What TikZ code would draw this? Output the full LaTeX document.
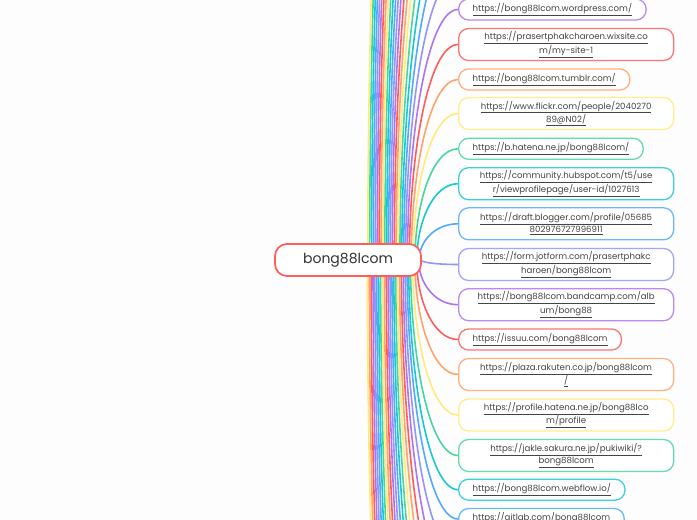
\documentclass[tikz,border=0pt]{standalone}
\usepackage{fontspec}
\setmainfont{Poppins}
\usetikzlibrary{calc}
\definecolor{c0}{HTML}{FF5C5C}
\definecolor{c1}{HTML}{FFA36B}
\definecolor{c2}{HTML}{FFEA7A}
\definecolor{c3}{HTML}{47D69E}
\definecolor{c4}{HTML}{1AC8D4}
\definecolor{c5}{HTML}{52AAFF}
\definecolor{c6}{HTML}{9494FF}
\definecolor{c7}{HTML}{AE75F0}
\definecolor{bgc}{HTML}{FDFDFD}
\definecolor{txt}{HTML}{444444}
\definecolor{roottxt}{HTML}{333333}
\pgfdeclarelayer{back}
\pgfdeclarelayer{bg}
\pgfsetlayers{back,bg,main}
\newcommand\myul[1]{\underline{#1}}
\newcommand\conn[2]{%
  \draw[connline,#1] let \p1=(root.center), \p2=(#2),
    \n1={421pt-0.054*abs(\y2-\y1)} in
    (\n1,\y1) .. controls (\n1,{0.5*\y1+0.5*\y2}) and ({\x2-0.6*(\x2-\n1)},\y2) .. (\p2);}
\begin{document}
\begin{tikzpicture}[x=1pt,y=-1pt,
  connline/.style={line width=1.6pt},
  rootbox/.style={draw=c0, fill=white, line width=1.7pt, rounded corners=12pt,
    minimum width=146pt, minimum height=32pt, inner sep=0pt,
    font=\fontsize{14}{16}\selectfont, text=roottxt},
  lbox/.style={draw=#1!85!white, fill=white, line width=1.3pt, rounded corners=10pt,
    anchor=west, inner xsep=14pt, inner ysep=0pt, minimum height=21pt,
    font=\fontsize{8.6}{11.7}\selectfont, text=txt},
  wbox/.style={lbox=#1, minimum width=215pt, minimum height=32pt, align=center, inner xsep=4pt}]
\begin{pgfonlayer}{back}
\fill[bgc] (0,0) rectangle (697,520);
\end{pgfonlayer}
\useasboundingbox (0,0) rectangle (697,520);
\clip (0,0) rectangle (697,520);

\node[rootbox] (root) at (348,260) {bong88lcom};

\node[lbox=c7] (nm1) at (458,9.5) {\myul{https://bong88lcom.wordpress.com/}};
\node[wbox=c0] (n0) at (458,44.5) {\myul{https://prasertphakcharoen.wixsite.co}\\\myul{m/my-site-1}};
\node[lbox=c1] (n1) at (458,79.5) {\myul{https://bong88lcom.tumblr.com/}};
\node[wbox=c2] (n2) at (458,113.5) {\myul{https://www.flickr.com/people/2040270}\\\myul{89@N02/}};
\node[lbox=c3] (n3) at (458,148.8) {\myul{https://b.hatena.ne.jp/bong88lcom/}};
\node[wbox=c4] (n4) at (458,183.7) {\myul{https://community.hubspot.com/t5/use}\\\myul{r/viewprofilepage/user-id/1027613}};
\node[wbox=c5] (n5) at (458,223.8) {\myul{https://draft.blogger.com/profile/05685}\\\myul{802976727996911}};
\node[wbox=c6] (n6) at (458,264.5) {\myul{https://form.jotform.com/prasertphakc}\\\myul{haroen/bong88lcom}};
\node[wbox=c7] (n7) at (458,304.7) {\myul{https://bong88lcom.bandcamp.com/alb}\\\myul{um/bong88}};
\node[lbox=c0] (n8) at (458,339.5) {\myul{https://issuu.com/bong88lcom}};
\node[wbox=c1] (n9) at (458,374.5) {\myul{https://plaza.rakuten.co.jp/bong88lcom}\\\myul{/}};
\node[wbox=c2] (n10) at (458,415) {\myul{https://profile.hatena.ne.jp/bong88lco}\\\myul{m/profile}};
\node[wbox=c3] (n11) at (458,455.5) {\myul{https://jakle.sakura.ne.jp/pukiwiki/?}\\\myul{bong88lcom}};
\node[lbox=c4] (n12) at (458,489.7) {\myul{https://bong88lcom.webflow.io/}};
\node[lbox=c5] (n13) at (458,519) {\myul{https://gitlab.com/bong88lcom}};

\begin{pgfonlayer}{bg}
\clip (0,0) rectangle (697,520);
\foreach \k in {1,...,21} {
  \pgfmathtruncatemacro\ci{mod(7999-\k,8)}
  \coordinate (u\k) at (458,{9.5-35*\k});
  \conn{c\ci}{u\k}
  \pgfmathtruncatemacro\cj{mod(13+\k,8)}
  \coordinate (d\k) at (458,{519+35*\k});
  \conn{c\cj}{d\k}
}
\conn{c7}{nm1.west}
\conn{c0}{n0.west}
\conn{c1}{n1.west}
\conn{c2}{n2.west}
\conn{c3}{n3.west}
\conn{c4}{n4.west}
\conn{c5}{n5.west}
\conn{c6}{n6.west}
\conn{c7}{n7.west}
\conn{c0}{n8.west}
\conn{c1}{n9.west}
\conn{c2}{n10.west}
\conn{c3}{n11.west}
\conn{c4}{n12.west}
\conn{c5}{n13.west}
\end{pgfonlayer}
\end{tikzpicture}
\end{document}
